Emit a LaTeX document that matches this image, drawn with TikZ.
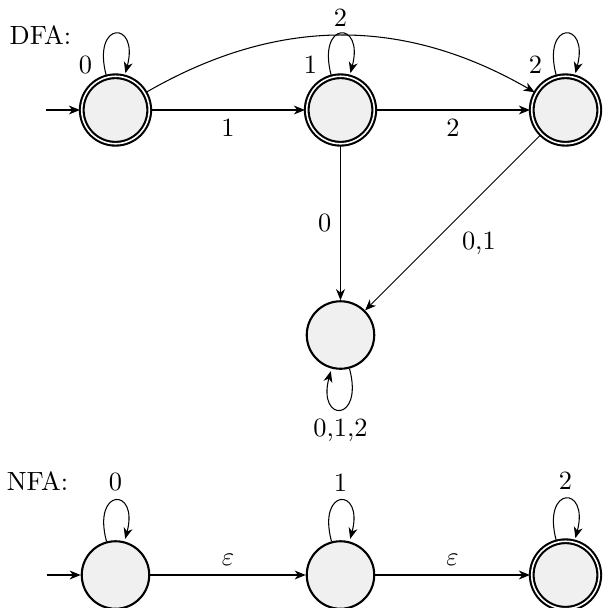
\documentclass[tikz,border=0pt]{standalone}
\usetikzlibrary{automata,arrows.meta}
\begin{document}
\begin{tikzpicture}[
  >={Stealth[length=4.2pt,width=3.4pt,inset=1.3pt]},
  every state/.style={draw, thick, fill=gray!12, minimum size=0.9cm, inner sep=0pt},
  initial text={},
  looplabel/.style={left, pos=0.07, xshift=-1pt},
]
\useasboundingbox (-1.54,1.467) rectangle (6.553,-6.64);

% DFA
\node[state, initial, accepting] (q0) at (0,0) {};
\node[state, accepting] (q1) at (3,0) {};
\node[state, accepting] (q2) at (6,0) {};
\node[state] (s) at (3,-3) {};
\node (dfa) at (-1.0,1.0) {DFA:};

\path[->]
  (q0) edge[loop above] node[looplabel] {0} ()
  (q1) edge[loop above] node[looplabel] {1} ()
  (q2) edge[loop above] node[looplabel] {2} ()
  (q0) edge node[below] {1} (q1)
  (q1) edge node[below] {2} (q2)
  (q0) edge[bend left=30] node[above] {2} (q2)
  (q1) edge node[left] {0} (s)
  (q2) edge node[below right] {0,1} (s)
  (s)  edge[loop below] node[below] {0,1,2} ();

% NFA
\node[state, initial] (n0) at (0,-6.2) {};
\node[state] (n1) at (3,-6.2) {};
\node[state, accepting] (n2) at (6,-6.2) {};
\node (nfa) at (-1.04,-4.95) {NFA:};

\path[->]
  (n0) edge[loop above] node[above] {0} ()
  (n1) edge[loop above] node[above] {1} ()
  (n2) edge[loop above] node[above] {2} ()
  (n0) edge node[above] {$\varepsilon$} (n1)
  (n1) edge node[above] {$\varepsilon$} (n2);
\end{tikzpicture}
\end{document}
